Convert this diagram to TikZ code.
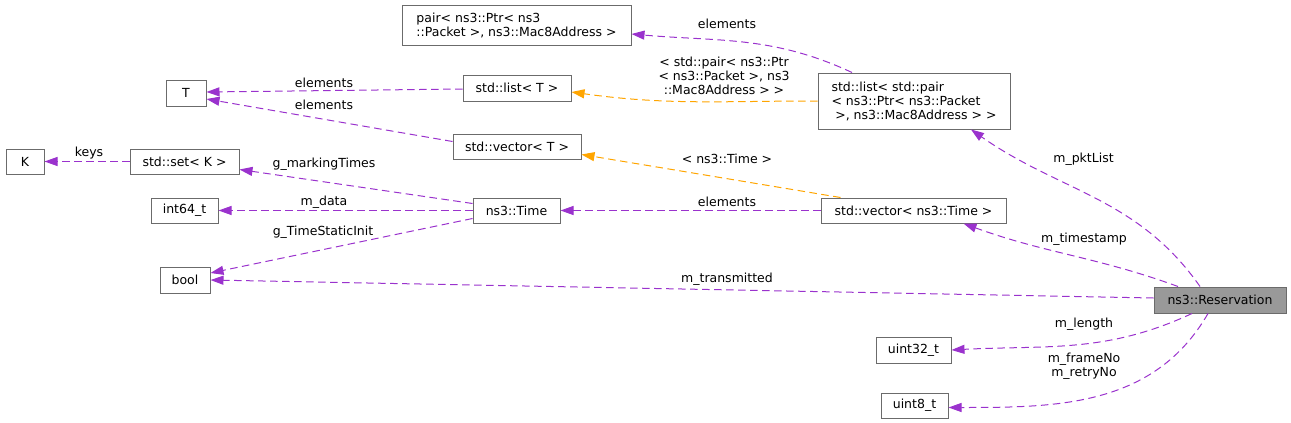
\documentclass[tikz,border=0pt]{standalone}
\usepackage{fontspec}
\setmainfont{DejaVu Sans}
\usetikzlibrary{arrows.meta}
\definecolor{depcol}{HTML}{9A32CD}
\definecolor{tplcol}{HTML}{FFA500}
\tikzset{
cls/.style={draw=black!58, line width=1pt, fill=white, inner sep=0pt, minimum height=25pt, align=left, font=\fontsize{12.5}{14}\selectfont},
lbl/.style={inner sep=0pt, align=center, font=\fontsize{12.5}{14}\selectfont},
dep/.style={draw=depcol, line width=1pt, dash pattern=on 7.5pt off 4.5pt, -{Triangle[length=13pt,width=9pt]}},
tpl/.style={dep, draw=tplcol}
}
\begin{document}
\begin{tikzpicture}[x=1pt,y=1pt]
\useasboundingbox (0,0) rectangle (1291,-423);
\node[cls, minimum width=229pt, minimum height=40pt] (pair) at (516.5,-25) {pair< ns3::Ptr< ns3\\::Packet >, ns3::Mac8Address >};
\node[cls, minimum width=40pt, minimum height=26pt] (T) at (186,-93) {T};
\node[cls, minimum width=108pt, minimum height=26pt] (lT) at (517,-88) {std::list< T >};
\node[cls, minimum width=192pt, minimum height=56pt] (lp) at (914,-101) {std::list< std::pair\\< ns3::Ptr< ns3::Packet\\\hspace*{0.3em}>, ns3::Mac8Address > >};
\node[cls, minimum width=38pt] (K) at (25,-161.5) {K};
\node[cls, minimum width=109pt] (sK) at (184.5,-161.5) {std::set< K >};
\node[cls, minimum width=128pt] (vT) at (517,-146.5) {std::vector< T >};
\node[cls, minimum width=67pt] (i64) at (184.5,-210.5) {int64\_t};
\node[cls, minimum width=87pt] (tm) at (516.5,-210.5) {ns3::Time};
\node[cls, minimum width=185pt] (vTm) at (913.5,-210.5) {std::vector< ns3::Time >};
\node[cls, minimum width=50pt, minimum height=26pt] (bool) at (185,-280) {bool};
\node[cls, fill=black!40, minimum width=132pt, minimum height=26pt] (res) at (1220,-300) {ns3::Reservation};
\node[cls, minimum width=75pt, minimum height=26pt] (u32) at (913.5,-350) {uint32\_t};
\node[cls, minimum width=67pt] (u8) at (914.5,-405.5) {uint8\_t};
\node[lbl] (lbPair) at (727,-24) {elements};
\node[lbl] (lbPairT) at (724,-75.5) {< std::pair< ns3::Ptr\\< ns3::Packet >, ns3\\::Mac8Address > >};
\node[lbl] (lbListT) at (324,-83) {elements};
\node[lbl] (lbVecT) at (324,-105) {elements};
\node[lbl] (lbKeys) at (89,-153) {keys};
\node[lbl] (lbMark) at (324,-164) {g\_markingTimes};
\node[lbl] (lbData) at (324,-202) {m\_data};
\node[lbl] (lbInit) at (323,-232) {g\_TimeStaticInit};
\node[lbl] (lbVecTm) at (727,-202) {elements};
\node[lbl] (lbTimeT) at (727,-159) {< ns3::Time >};
\node[lbl] (lbPkt) at (1083.5,-159) {m\_pktList};
\node[lbl] (lbStamp) at (1084,-239) {m\_timestamp};
\node[lbl] (lbSent) at (727,-279) {m\_transmitted};
\node[lbl] (lbLen) at (1084,-324) {m\_length};
\node[lbl] (lbNo) at (1084,-366) {m\_frameNo\\m\_retryNo};
\draw[dep] ([xshift=-62pt]lp.north) to[out=155,in=-5] ([yshift=-9pt]pair.east);
\draw[tpl] (lp.west) to[out=180,in=-8] ([yshift=-4pt]lT.east);
\draw[dep] ([yshift=-1pt]lT.west) -- ([yshift=1pt]T.east);
\draw[dep] ([yshift=5pt]vT.west) -- ([yshift=-6pt]T.east);
\foreach \a/\b in {sK/K, tm/i64, vTm/tm} \draw[dep] (\a.west) -- (\b.east);
\draw[dep] ([yshift=7pt]tm.west) -- ([yshift=-8pt]sK.east);
\draw[dep] ([yshift=-8pt]tm.west) -- ([yshift=7pt]bool.east);
\draw[tpl] ([xshift=-73pt]vTm.north) -- ([yshift=-8pt]vT.east);
\draw[dep] ([xshift=-20pt]res.north) to[out=125,in=-35] ([xshift=57pt]lp.south);
\draw[dep] ([xshift=-42pt]res.north) to[out=160,in=-20] ([xshift=50pt]vTm.south);
\draw[dep] ([yshift=2pt]res.west) -- (bool.east);
\draw[dep] ([xshift=-28pt]res.south) to[out=205,in=3] (u32.east);
\draw[dep] ([xshift=-12pt]res.south) to[out=240,in=0] ([yshift=-2pt]u8.east);
\end{tikzpicture}
\end{document}
